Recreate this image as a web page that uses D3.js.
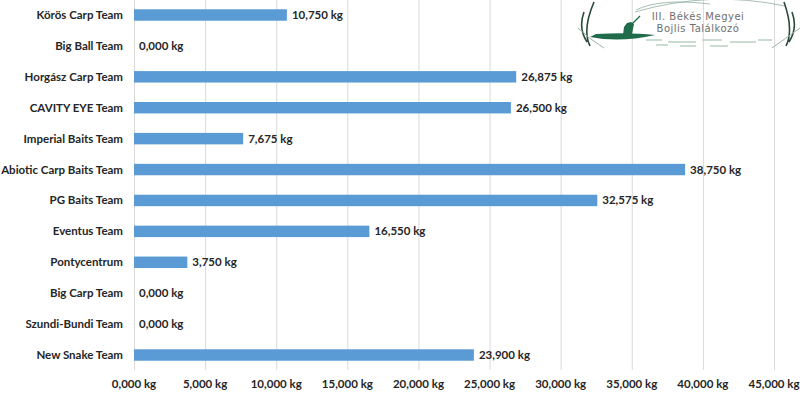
<!DOCTYPE html>
<html>
<head>
<meta charset="utf-8">
<script src="https://cdn.jsdelivr.net/npm/d3@7"></script>
<style>
  body { margin: 0; background: #fff; }
  text { font-family: Lato, "Liberation Sans", sans-serif; font-weight: bold; fill: #262626; }
  text.logo { font-family: "DejaVu Sans", sans-serif; font-weight: normal; fill: #6f6f6f; }
</style>
</head>
<body>
<script>
// teams top to bottom
const teams = ["Körös Carp Team", "Big Ball Team", "Horgász Carp Team", "CAVITY EYE Team",
  "Imperial Baits Team", "Abiotic Carp Baits Team", "PG Baits Team", "Eventus Team",
  "Pontycentrum", "Big Carp Team", "Szundi-Bundi Team", "New Snake Team"];
// weights in kg
const weights = [10.750, 0, 26.875, 26.500, 7.675, 38.750, 32.575, 16.550, 3.750, 0, 0, 23.900];
const ticks = [0, 5, 10, 15, 20, 25, 30, 35, 40, 45];

const dims = { width: 800, height: 397 };
const fmt = v => d3.format(".3f")(v).replace(".", ",") + " kg";

const svg = d3.select("body").append("svg")
    .attr("width", dims.width)
    .attr("height", dims.height);

const x = d3.scaleLinear().domain([0, 45]).range([134, 774]);
const y = d3.scaleBand().domain(teams).range([0, 370]).paddingInner(0.63).paddingOuter(0.3);

// gridlines
svg.append("g").selectAll("line").data(ticks).enter()
  .append("line")
    .attr("x1", d => x(d) + 0.5).attr("x2", d => x(d) + 0.5)
    .attr("y1", 0).attr("y2", 370)
    .attr("stroke", "#d9d9d9");

// axis labels
svg.append("g").selectAll("text").data(ticks).enter()
  .append("text")
    .attr("x", d => x(d))
    .attr("y", 388)
    .attr("text-anchor", "middle")
    .attr("font-size", 11.5)
    .text(d => fmt(d));

// category labels
svg.append("g").selectAll("text").data(teams).enter()
  .append("text")
    .attr("x", 123)
    .attr("y", d => y(d) + y.bandwidth() / 2 + 4)
    .attr("text-anchor", "end")
    .attr("font-size", 11.5)
    .text(d => d);

// bars
svg.append("g").selectAll("rect").data(weights).enter()
  .append("rect")
    .attr("x", x(0))
    .attr("y", (d, i) => y(teams[i]))
    .attr("width", d => x(d) - x(0))
    .attr("height", y.bandwidth())
    .attr("fill", "#5b9bd5");

// value labels
svg.append("g").selectAll("text").data(weights).enter()
  .append("text")
    .attr("x", d => x(d) + 5)
    .attr("y", (d, i) => y(teams[i]) + y.bandwidth() / 2 + 4)
    .attr("font-size", 11.5)
    .text(d => fmt(d));

// logo (rough sketch)
const logo = svg.append("g").attr("transform", "translate(560,0)");
// fishing line
logo.append("path")
    .attr("d", "M76,10 Q100,-2 150,4 M75,12 Q150,-10 225,6")
    .attr("fill", "none").attr("stroke", "#8fae9f").attr("stroke-width", 0.8);
// boat + fisherman
logo.append("path")
    .attr("d", "M30,37 Q60,43 95,35 Q70,32 36,34 Z")
    .attr("fill", "#1f6b4a");
logo.append("path")
    .attr("d", "M63,35 L64,27 L67,23 L71,22 L74,24 L72,34 Z")
    .attr("fill", "#1f6b4a");
logo.append("path")
    .attr("d", "M72,24 L80,16")
    .attr("stroke", "#1f6b4a").attr("stroke-width", 1.2);
// reeds
logo.append("path")
    .attr("d", "M30,46 Q22,30 34,2 M27,42 Q18,28 24,12 M226,46 Q234,30 224,2 M229,42 Q238,28 232,12")
    .attr("fill", "none").attr("stroke", "#2a4a3a").attr("stroke-width", 1.6);
logo.append("path")
    .attr("d", "M18,28 Q28,38 44,48 M240,28 Q226,38 212,48")
    .attr("fill", "none").attr("stroke", "#9cb5a8").attr("stroke-width", 1);
// water ripples
[[86, 40, 16], [108, 42, 28], [142, 40, 20], [170, 42, 26], [120, 46, 16], [96, 45, 12], [198, 40, 14], [150, 46, 18]].forEach(s => {
  logo.append("line").attr("x1", s[0]).attr("x2", s[0] + s[2]).attr("y1", s[1]).attr("y2", s[1])
    .attr("stroke", "#b8cfc3").attr("stroke-width", 1.5);
});
logo.append("text").attr("class", "logo").attr("x", 138).attr("y", 20).attr("text-anchor", "middle")
    .attr("font-size", 10).style("letter-spacing", "0.5px").text("III. Békés Megyei");
logo.append("text").attr("class", "logo").attr("x", 138).attr("y", 32).attr("text-anchor", "middle")
    .attr("font-size", 10).style("letter-spacing", "0.5px").text("Bojlis Találkozó");
</script>
</body>
</html>
